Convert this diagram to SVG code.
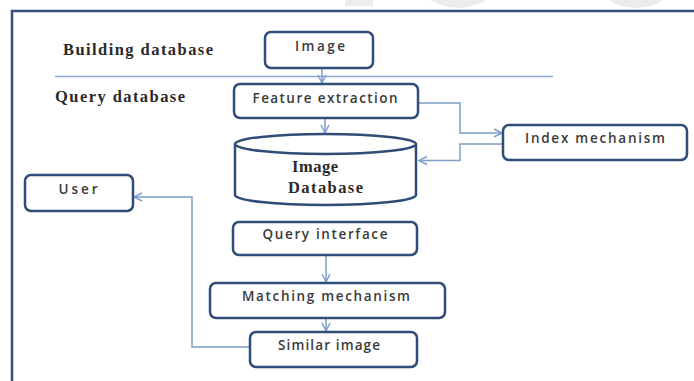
<svg xmlns="http://www.w3.org/2000/svg" width="694" height="381" viewBox="0 0 694 381">
<defs>
<style>
.box{fill:#fff;stroke:#2e4d78;stroke-width:2.5}
.lbl{font-family:"Open Sans","Noto Sans",sans-serif;font-weight:600;font-size:13.5px;fill:#3a3a3a;text-anchor:middle}
.ser{font-family:"Liberation Serif",serif;font-weight:bold;font-size:16.5px;fill:#2a2a2a}
.con{fill:none;stroke:#7c9cc9;stroke-width:1.5}
</style>
<marker id="ah" viewBox="0 0 10 10" refX="9" refY="5" markerWidth="10" markerHeight="10" markerUnits="userSpaceOnUse" orient="auto">
<path d="M1,1 L9,5 L1,9" fill="none" stroke="#7c9cc9" stroke-width="1.4"/>
</marker>
</defs>
<rect width="694" height="381" fill="#fff"/>
<g id="watermark" fill="#ececec">
<rect x="345" y="0" width="28" height="6"/>
<ellipse cx="458" cy="-30" rx="45" ry="38"/>
<ellipse cx="636" cy="-30" rx="45" ry="38"/>
</g>
<g id="frame">
<path d="M12,383 L12,11 L696,11" fill="none" stroke="#34527c" stroke-width="2.5"/>
</g>
<g id="sections">
<text class="ser" x="63" y="55" textLength="150" lengthAdjust="spacing">Building database</text>
<text class="ser" x="55" y="102" textLength="130" lengthAdjust="spacing">Query database</text>
<line x1="55" y1="76.5" x2="553" y2="76.5" stroke="#8aa8d4" stroke-width="1.5"/>
</g>
<g id="connectors">
<line class="con" x1="322" y1="68" x2="322" y2="83" marker-end="url(#ah)"/>
<line class="con" x1="325" y1="118" x2="325" y2="133" marker-end="url(#ah)"/>
<path class="con" d="M418,103 H460 V133 H502" marker-end="url(#ah)"/>
<path class="con" d="M502,144 H460 V160.5 H419" marker-start="url(#ah)" marker-end="url(#ah)"/>
<line class="con" x1="326" y1="255" x2="326" y2="282" marker-end="url(#ah)"/>
<line class="con" x1="326" y1="318" x2="326" y2="331" marker-end="url(#ah)"/>
<path class="con" d="M250,347 H192 V197 H134" marker-end="url(#ah)"/>
</g>
<g id="image">
<rect class="box" x="265" y="32" width="108" height="36" rx="6"/>
<text class="lbl" x="320" y="51" textLength="50" lengthAdjust="spacing">Image</text>
</g>
<g id="feature-extraction">
<rect class="box" x="234" y="84" width="184" height="34" rx="6"/>
<text class="lbl" x="325" y="103" textLength="145" lengthAdjust="spacing">Feature extraction</text>
</g>
<g id="index-mechanism">
<rect class="box" x="503" y="125" width="184" height="35" rx="6"/>
<text class="lbl" x="595" y="143" textLength="140" lengthAdjust="spacing">Index mechanism</text>
</g>
<g id="image-database">
<path class="box" d="M235,144 V195 A90.5,10 0 0 0 416,195 V144 A90.5,10 0 0 0 235,144 A90.5,10 0 0 0 416,144"/>
<text class="ser" x="292" y="172" textLength="46" lengthAdjust="spacing">Image</text>
<text class="ser" x="288" y="193" textLength="75" lengthAdjust="spacing">Database</text>
</g>
<g id="user">
<rect class="box" x="25" y="175" width="108" height="36" rx="6"/>
<text class="lbl" x="78" y="194" textLength="39" lengthAdjust="spacing">User</text>
</g>
<g id="query-interface">
<rect class="box" x="233" y="222" width="184" height="33" rx="6"/>
<text class="lbl" x="325" y="239" textLength="125" lengthAdjust="spacing">Query interface</text>
</g>
<g id="matching-mechanism">
<rect class="box" x="210" y="283" width="235" height="35" rx="6"/>
<text class="lbl" x="326" y="301" textLength="168" lengthAdjust="spacing">Matching mechanism</text>
</g>
<g id="similar-image">
<rect class="box" x="250" y="332" width="167" height="35" rx="6"/>
<text class="lbl" x="329" y="350" textLength="102" lengthAdjust="spacing">Similar image</text>
</g>
</svg>
